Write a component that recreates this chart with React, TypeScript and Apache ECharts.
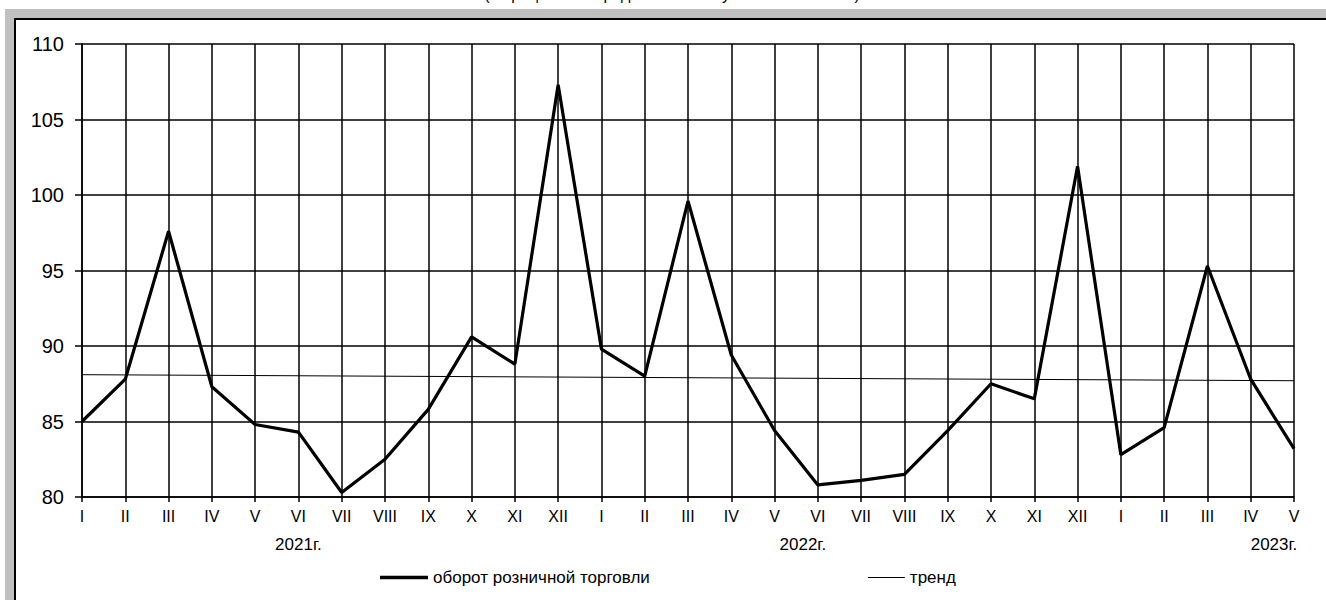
import React, { useEffect, useRef } from "react";
import * as echarts from "echarts";

const TITLE = "(в процентах к среднемесячному значению 2018г.)";
const YEARS = ["2021", "2022", "2023"];
const MONTHS = ["I", "II", "III", "IV", "V", "VI", "VII", "VIII", "IX", "X", "XI", "XII"];
const SALES_2021 = [85.0, 87.8, 97.6, 87.3, 84.8, 84.3, 80.3, 82.5, 85.8, 90.6, 88.8, 107.3];
const SALES_2022 = [89.8, 88.0, 99.6, 89.4, 84.4, 80.8, 81.1, 81.5, 84.4, 87.5, 86.5, 101.9];
const SALES_2023 = [82.8, 84.6, 95.3, 87.8, 83.2];
const TREND_START = 88.1;
const TREND_END = 87.7;
const Y_MIN = 80;
const Y_MAX = 110;
const Y_STEP = 5;
const YEAR_LABEL_AT = ["2021-VI", "2022-VI", "2023-V"];
const YEAR_LABEL_TEXT = ["2021г.", "2022г.", "2023г."];
const SERIES_NAMES = ["оборот розничной торговли", "тренд"];

const FONT = "'Liberation Sans', Arial, sans-serif";

export default function App() {
  const ref = useRef<HTMLDivElement>(null);

  useEffect(() => {
    if (!ref.current) return;
    const chart = echarts.init(ref.current, undefined, { renderer: "svg" });

    const seriesByYear = [SALES_2021, SALES_2022, SALES_2023];
    const categories: string[] = [];
    const values: number[] = [];
    seriesByYear.forEach((arr, yi) => {
      arr.forEach((v, mi) => {
        categories.push(`${YEARS[yi]}-${MONTHS[mi]}`);
        values.push(v);
      });
    });
    const trend = [
      [categories[0], TREND_START],
      [categories[categories.length - 1], TREND_END],
    ];

    const black = "#000";

    chart.setOption({
      animation: false,
      backgroundColor: "transparent",
      textStyle: { fontFamily: FONT },
      graphic: [
        {
          type: "text",
          x: 672,
          y: 2,
          style: {
            text: TITLE,
            font: "16px 'Liberation Sans', Arial, sans-serif",
            fill: "#000",
            align: "center",
            verticalAlign: "bottom",
          },
        },
      ],
      grid: { left: 82, right: 32, top: 44, bottom: 103, containLabel: false },
      legend: {
        left: 375,
        top: 564,
        itemWidth: 48,
        itemHeight: 14,
        itemGap: 207,
        symbolKeepAspect: true,
        textStyle: { fontSize: 17, color: black, fontFamily: FONT },
        data: [
          { name: SERIES_NAMES[0], icon: "path://M0,0h48v3.5h-48z", itemStyle: { color: black } },
          { name: SERIES_NAMES[1], icon: "path://M0,0M11,0h37v1h-37z", itemStyle: { color: black } },
        ],
      },
      xAxis: [
        {
          type: "category",
          data: categories,
          boundaryGap: false,
          axisLine: { show: true, lineStyle: { color: black, width: 1.5 } },
          axisTick: { show: true, length: 5, interval: 0, lineStyle: { color: black, width: 1.5 } },
          splitLine: { show: true, interval: 0, lineStyle: { color: black, width: 1.5 } },
          axisLabel: {
            interval: 0,
            margin: 11,
            fontSize: 16,
            color: black,
            fontFamily: FONT,
            formatter: (v: string) => v.split("-")[1],
          },
        },
        {
          type: "category",
          data: categories,
          boundaryGap: false,
          position: "bottom",
          offset: 28,
          axisLine: { show: false },
          axisTick: { show: false },
          splitLine: { show: false },
          axisLabel: {
            interval: 0,
            margin: 11,
            fontSize: 17,
            color: black,
            fontFamily: FONT,
            formatter: (v: string) => {
              const i = YEAR_LABEL_AT.indexOf(v);
              if (i < 0) return "";
              return `{y${i}|${YEAR_LABEL_TEXT[i]}}`;
            },
            rich: {
              y0: { fontSize: 17, color: black, fontFamily: FONT, padding: [0, 0, 0, 0] },
              y1: { fontSize: 17, color: black, fontFamily: FONT, padding: [0, 30, 0, 0] },
              y2: { fontSize: 17, color: black, fontFamily: FONT, padding: [0, 40, 0, 0] },
            },
          },
        },
      ],
      yAxis: {
        type: "value",
        min: Y_MIN,
        max: Y_MAX,
        interval: Y_STEP,
        axisLine: { show: true, lineStyle: { color: black, width: 1.5 } },
        axisTick: { show: true, length: 7, lineStyle: { color: black, width: 1.5 } },
        splitLine: { show: true, lineStyle: { color: black, width: 1.5 } },
        axisLabel: { margin: 18, fontSize: 20, color: black, fontFamily: FONT },
      },
      series: [
        {
          name: SERIES_NAMES[0],
          type: "line",
          data: values,
          symbol: "none",
          showSymbol: false,
          lineStyle: { color: black, width: 3.2 },
          itemStyle: { color: black },
          z: 4,
        },
        {
          name: SERIES_NAMES[1],
          type: "line",
          data: trend,
          symbol: "none",
          showSymbol: false,
          lineStyle: { color: black, width: 1 },
          itemStyle: { color: black },
          z: 3,
        },
      ],
    });

    return () => chart.dispose();
  }, []);

  return (
    <div style={{ position: "absolute", left: 0, top: 0, width: 1326, height: 600, overflow: "hidden", background: "#fff" }}>
      <div style={{ position: "absolute", left: 5, top: 9, width: 1400, height: 700, background: "#c0c0c0" }} />
      <div
        style={{
          position: "absolute",
          left: 14,
          top: 18,
          width: 1400,
          height: 700,
          background: "#fff",
          borderLeft: "2px solid #000",
          borderTop: "2px solid #000",
        }}
      />
      <div ref={ref} style={{ position: "absolute", left: 0, top: 0, width: 1326, height: 600 }} />
    </div>
  );
}
